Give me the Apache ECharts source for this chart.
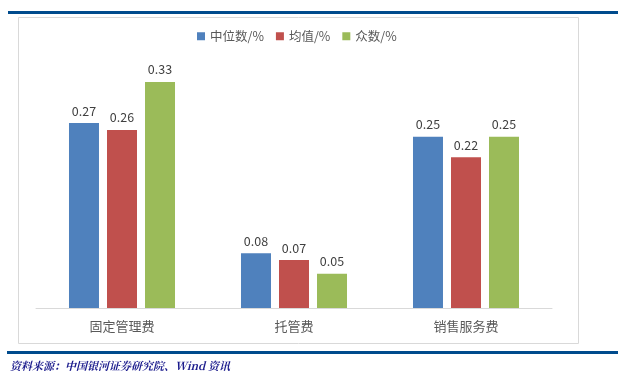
<!DOCTYPE html>
<html><head><meta charset="utf-8">
<script src="https://cdn.jsdelivr.net/npm/echarts@6/dist/echarts.min.js"></script>
<style>html,body{margin:0;padding:0;background:#fff}#c{width:643px;height:385px}</style>
</head><body><div id="c"></div>
<script>
const categories = ['固定管理费', '托管费', '销售服务费'];
const seriesNames = ['中位数/%', '均值/%', '众数/%'];
const median = [0.27, 0.08, 0.25];
const mean = [0.26, 0.07, 0.22];
const mode = [0.33, 0.05, 0.25];
const colors = ['#4f81bd', '#c0504d', '#9bbb59'];
const sourceText = '资料来源：中国银河证券研究院、Wind 资讯';

const chart = echarts.init(document.getElementById('c'));
const font = '"Noto Sans CJK SC", "Microsoft YaHei", sans-serif';
const mk = (name, data, i) => ({
  name, type: 'bar', data, barWidth: 30, barGap: '26.7%',
  itemStyle: { color: colors[i] },
  label: { show: true, position: 'top', distance: 6, color: '#404040', fontSize: 12.5, fontFamily: font },
  animation: false
});
chart.setOption({
  animation: false,
  textStyle: { fontFamily: font },
  legend: {
    top: 30, left: 197, padding: 0, itemWidth: 8, itemHeight: 8, itemGap: 12,
    textStyle: { color: '#595959', fontSize: 12.5, fontFamily: font },
    data: seriesNames.map((n, i) => ({ name: n, icon: 'rect' }))
  },
  grid: { left: 36, right: 91, top: 34, bottom: 77 },
  xAxis: {
    type: 'category', data: categories,
    axisLine: { lineStyle: { color: '#d9d9d9', width: 1 } },
    axisTick: { show: false },
    axisLabel: { color: '#595959', fontSize: 13, margin: 12, fontFamily: font }
  },
  yAxis: { type: 'value', min: 0, max: 0.4, show: false, splitLine: { show: false } },
  series: [mk(seriesNames[0], median, 0), mk(seriesNames[1], mean, 1), mk(seriesNames[2], mode, 2)],
  graphic: [
    { type: 'rect', shape: { x: 8, y: 11, width: 610, height: 3 }, style: { fill: '#004b8d' }, silent: true },
    { type: 'rect', shape: { x: 18.5, y: 17.5, width: 560, height: 326 }, style: { fill: 'none', stroke: '#d9d9d9', lineWidth: 1 }, silent: true },
    { type: 'rect', shape: { x: 7, y: 351, width: 611, height: 3 }, style: { fill: '#004b8d' }, silent: true },
    { type: 'text', left: 10, top: 360, style: { text: sourceText, fill: '#1a1a8c', font: 'italic bold 11px "Noto Serif CJK SC", "Noto Sans CJK SC", serif' }, silent: true }
  ]
});
</script></body></html>
